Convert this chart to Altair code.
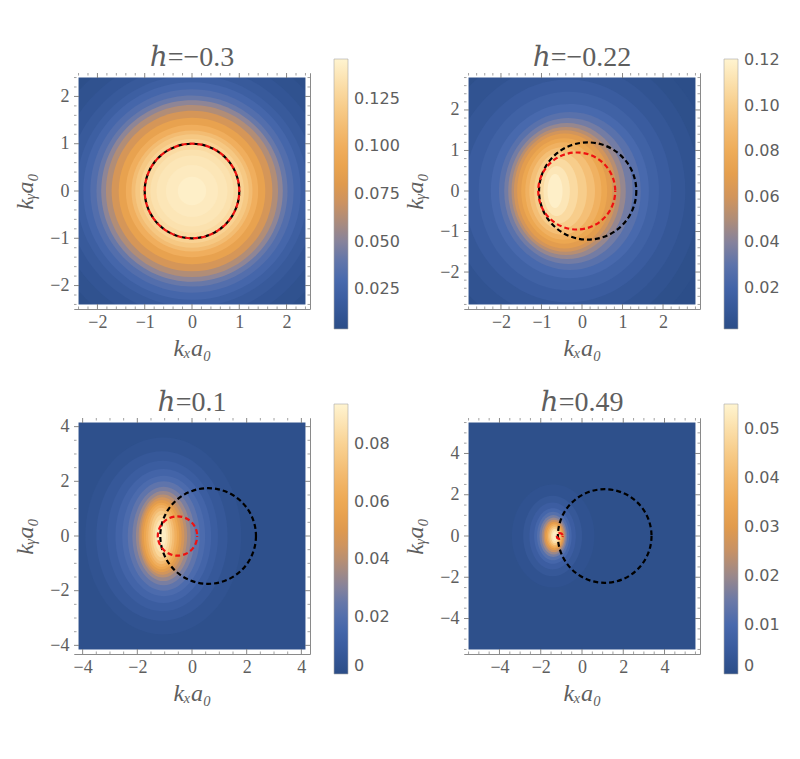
import altair as alt
import pandas as pd
import numpy as np

# ---------------- colour map (fraction of colourbar -> colour) ----------------
CMAP_F = [0.00, 0.10, 0.18, 0.26, 0.33, 0.40, 0.47, 0.54, 0.62, 0.70, 0.78, 0.86, 0.93, 1.00]
CMAP_C = ["#2b4d87", "#3a5c9f", "#4869ad", "#6477aa", "#8a849a", "#ad8c7a", "#cd9360",
          "#e09a4d", "#eca650", "#f1b263", "#f5c37c", "#f9d496", "#fce4b4", "#fff4d0"]

# ---------------- panel titles / ranges / colourbars ----------------
TITLES = ["ℎ=−0.3", "ℎ=−0.22", "ℎ=0.1", "ℎ=0.49"]
RANGES = [2.4, 2.8, 4.15, 5.5]
CB_MIN = [0.004, 0.002, 0.0, 0.0]
CB_MAX = [0.146, 0.1205, 0.094, 0.0551]
CB_VALUES = [[0.025, 0.05, 0.075, 0.1, 0.125],
             [0.02, 0.04, 0.06, 0.08, 0.10, 0.12],
             [0, 0.02, 0.04, 0.06, 0.08],
             [0, 0.01, 0.02, 0.03, 0.04, 0.05]]
CB_FMT = ["format(datum.value, '.3f')",
          "format(datum.value, '.2f')",
          "datum.value == 0 ? '0' : format(datum.value, '.2f')",
          "datum.value == 0 ? '0' : format(datum.value, '.2f')"]
MAJOR = [[-2, -1, 0, 1, 2], [-2, -1, 0, 1, 2], [-4, -2, 0, 2, 4], [-4, -2, 0, 2, 4]]
MINOR_STEP = [0.2, 0.2, 0.5, 0.5]

# ---------------- density contours ----------------
# level value, left / right crossing on ky=0, vertical half-extent
P1_LEVEL = [0.005, 0.006, 0.009, 0.012, 0.016, 0.021, 0.027, 0.034, 0.042, 0.052, 0.062,
            0.075, 0.088, 0.100, 0.110, 0.118, 0.125, 0.130, 0.134, 0.137, 0.140, 0.143]
P1_LEFT = [-50, -3.5, -3.2, -2.9, -2.65, -2.45, -2.3, -2.15, -2.02, -1.92, -1.82,
           -1.7, -1.55, -1.4, -1.28, -1.2, -1.1, -1.0, -0.88, -0.75, -0.55, -0.3]
P1_RIGHT = [50, 3.5, 3.2, 2.9, 2.65, 2.45, 2.3, 2.15, 2.02, 1.92, 1.82,
            1.7, 1.55, 1.4, 1.28, 1.2, 1.1, 1.0, 0.88, 0.75, 0.55, 0.3]
P1_HALF = [50, 3.5, 3.2, 2.9, 2.65, 2.45, 2.3, 2.15, 2.02, 1.92, 1.82,
           1.7, 1.55, 1.4, 1.28, 1.2, 1.1, 1.0, 0.88, 0.75, 0.55, 0.3]

P2_LEVEL = [0.003, 0.004, 0.007, 0.010, 0.014, 0.018, 0.023, 0.029, 0.036, 0.044, 0.052, 0.060,
            0.068, 0.076, 0.084, 0.092, 0.100, 0.107, 0.113, 0.118]
P2_LEFT = [-50, -4.3, -3.8, -3.3, -2.9, -2.55, -2.25, -2.05, -1.92, -1.82, -1.74, -1.68,
           -1.6, -1.5, -1.4, -1.3, -1.18, -1.05, -0.95, -0.85]
P2_RIGHT = [50, 3.3, 2.9, 2.55, 2.2, 1.9, 1.65, 1.45, 1.25, 1.08, 0.95, 0.85,
            0.75, 0.62, 0.48, 0.32, 0.12, -0.1, -0.3, -0.48]
P2_HALF = [50, 4.0, 3.6, 3.15, 2.75, 2.45, 2.15, 1.95, 1.8, 1.68, 1.58, 1.5,
           1.42, 1.3, 1.2, 1.08, 0.95, 0.8, 0.62, 0.42]

P3_LEVEL = [0.002, 0.004, 0.007, 0.010, 0.014, 0.018, 0.023, 0.028, 0.034, 0.040, 0.046,
            0.052, 0.058, 0.064, 0.070, 0.076, 0.082, 0.087, 0.091]
P3_LEFT = [-50, -3.9, -3.5, -3.1, -2.8, -2.55, -2.35, -2.18, -2.05, -1.95, -1.89,
           -1.83, -1.76, -1.68, -1.6, -1.52, -1.44, -1.36, -1.28]
P3_RIGHT = [50, 1.8, 1.3, 0.95, 0.7, 0.48, 0.28, 0.1, -0.05, -0.18, -0.28,
            -0.38, -0.47, -0.55, -0.64, -0.72, -0.8, -0.88, -0.95]
P3_HALF = [50, 3.6, 3.1, 2.75, 2.45, 2.2, 2.0, 1.8, 1.65, 1.52, 1.42,
           1.32, 1.22, 1.13, 1.03, 0.92, 0.78, 0.6, 0.4]

P4_LEVEL = [0.001, 0.002, 0.004, 0.006, 0.009, 0.012, 0.016, 0.020, 0.025, 0.030, 0.035,
            0.040, 0.045, 0.050, 0.053]
P4_LEFT = [-50, -3.4, -2.85, -2.55, -2.32, -2.18, -2.06, -1.96, -1.87, -1.8, -1.72,
           -1.65, -1.58, -1.5, -1.43]
P4_RIGHT = [50, 0.6, 0.0, -0.3, -0.5, -0.62, -0.72, -0.78, -0.84, -0.9, -0.95,
            -1.0, -1.05, -1.12, -1.18]
P4_HALF = [50, 2.5, 1.95, 1.62, 1.35, 1.18, 1.02, 0.9, 0.79, 0.69, 0.6,
           0.52, 0.44, 0.35, 0.24]

# ---------------- dashed circles (centre x, radius) ----------------
BLACK_CX = [0.0, 0.14, 0.59, 1.1]
BLACK_R = [1.0, 1.2, 1.75, 2.27]
RED_CX = [0.0, -0.13, -0.53, -1.08]
RED_R = [1.0, 0.95, 0.72, 0.14]

LEVELS = [P1_LEVEL, P2_LEVEL, P3_LEVEL, P4_LEVEL]
LEFTS = [P1_LEFT, P2_LEFT, P3_LEFT, P4_LEFT]
RIGHTS = [P1_RIGHT, P2_RIGHT, P3_RIGHT, P4_RIGHT]
HALVES = [P1_HALF, P2_HALF, P3_HALF, P4_HALF]

W = 236
GRAY = "#5e5e5e"
TICK = "#7a7a7a"
SERIF = "Liberation Serif, Times New Roman, DejaVu Serif, serif"


def panel(i):
    r = RANGES[i]
    f = 1.04 * r
    ppu = W / (2 * f)
    lv = np.array(LEVELS[i]); L = np.array(LEFTS[i]); R = np.array(RIGHTS[i]); Hh = np.array(HALVES[i])
    rx = (R - L) / 2
    rings = pd.DataFrame({
        "v": lv,
        "cx": (L + R) / 2,
        "cy": 0.0,
        "rx": rx,
        "idx": np.arange(len(lv)),
        "path": [f"M-1,0A1,{a:.4f} 0 1,1 1,0A1,{a:.4f} 0 1,1 -1,0Z" for a in Hh / rx],
    })
    xs = alt.Scale(domain=[-f, f], nice=False, zero=False)
    ys = alt.Scale(domain=[-f, f], nice=False, zero=False)
    xaxis = alt.Axis(values=MAJOR[i], format="d", title="kₓa₀", grid=False, ticks=False,
                     domain=False, labelPadding=4, titlePadding=5)
    yaxis = alt.Axis(values=MAJOR[i], format="d", title="kᵧa₀", grid=False, ticks=False,
                     domain=False, labelPadding=5, titlePadding=12)

    def X(field):
        return alt.X(field, type="quantitative", scale=xs, axis=xaxis)

    def Y(field):
        return alt.Y(field, type="quantitative", scale=ys, axis=yaxis)

    size = alt.Size("rx:Q", scale=alt.Scale(type="pow", exponent=2, domain=[0, 1],
                                            range=[0, 4 * ppu ** 2]), legend=None)
    cmin, cmax = CB_MIN[i], CB_MAX[i]
    color = alt.Color("v:Q",
                      scale=alt.Scale(domain=[cmin + t * (cmax - cmin) for t in CMAP_F],
                                      range=CMAP_C, interpolate="rgb"),
                      legend=alt.Legend(orient="none", legendX=260, legendY=-14,
                                        direction="vertical", gradientLength=270,
                                        gradientThickness=14, title=None,
                                        values=CB_VALUES[i], labelExpr=CB_FMT[i],
                                        labelBaseline="middle", labelOffset=6,
                                        labelOverlap=False))
    ring_layer = alt.Chart(rings).mark_point(filled=True, opacity=1, strokeWidth=0, clip=True).encode(
        x=X("cx"), y=Y("cy"), size=size, color=color,
        shape=alt.Shape("path:N", scale=None, legend=None),
        order=alt.Order("idx:Q"))

    border = pd.DataFrame({"x": [-f, r, -f, -f], "x2": [-r, f, f, f],
                           "y": [-f, -f, -f, r], "y2": [f, f, -r, f]})
    border_layer = alt.Chart(border).mark_rect(color="white", clip=True).encode(
        x=X("x"), x2="x2", y=Y("y"), y2="y2")

    major = MAJOR[i]
    st = MINOR_STEP[i]
    n = int(np.floor(f / st))
    minor = [round(k * st, 3) for k in range(-n, n + 1)
             if abs(k * st) < f - 1e-6 and all(abs(k * st - m) > 1e-6 for m in major)]
    layers = [ring_layer, border_layer]
    for vals, ln, sw in [(major, 5, 0.9), (minor, 2.5, 0.7)]:
        td = pd.DataFrame({"t": vals})
        base = alt.Chart(td).mark_rule(color=TICK, strokeWidth=sw)
        layers += [
            base.encode(x=X("t"), y=alt.value(W), y2=alt.value(W - ln)),
            base.encode(x=X("t"), y=alt.value(0), y2=alt.value(ln)),
            base.encode(y=Y("t"), x=alt.value(0), x2=alt.value(ln)),
            base.encode(y=Y("t"), x=alt.value(W), x2=alt.value(W - ln)),
        ]

    bc = pd.DataFrame({"cx": [BLACK_CX[i]], "cy": [0.0], "rx": [BLACK_R[i]]})
    rc = pd.DataFrame({"cx": [RED_CX[i]], "cy": [0.0], "rx": [RED_R[i]]})
    layers.append(alt.Chart(bc).mark_point(shape="circle", filled=False, stroke="#000000",
                                           strokeWidth=2.2, strokeDash=[5, 3], opacity=1).encode(
        x=X("cx"), y=Y("cy"), size=size))
    layers.append(alt.Chart(rc).mark_point(shape="circle", filled=False, stroke="#ee1111",
                                           strokeWidth=2.2, strokeDash=[5, 3], strokeDashOffset=4,
                                           opacity=1).encode(
        x=X("cx"), y=Y("cy"), size=size))

    return alt.layer(*layers).properties(
        width=W, height=W,
        title=alt.TitleParams(TITLES[i], font=SERIF, fontSize=28, color=GRAY,
                              fontWeight="normal", offset=-13))


chart = alt.concat(*[panel(i) for i in range(4)], columns=2, spacing={"row": 109, "column": 154},
                   bounds="flush").resolve_scale(
    x="independent", y="independent", color="independent", size="independent"
).resolve_legend(color="independent").configure_view(
    stroke="#8a8a8a", strokeWidth=1
).configure_axis(
    labelFont=SERIF, labelFontSize=18, labelColor=GRAY,
    titleFont=SERIF, titleFontSize=24, titleFontStyle="italic",
    titleFontWeight="normal", titleColor=GRAY
).configure_legend(
    labelFont="DejaVu Sans", labelFontSize=16, labelColor=GRAY,
    gradientStrokeColor="#aaaaaa", gradientStrokeWidth=0.6
).properties(padding={"left": 5, "top": 35, "right": 5, "bottom": 5})

chart.save("out.html", embed_options={"renderer": "svg", "actions": False})
